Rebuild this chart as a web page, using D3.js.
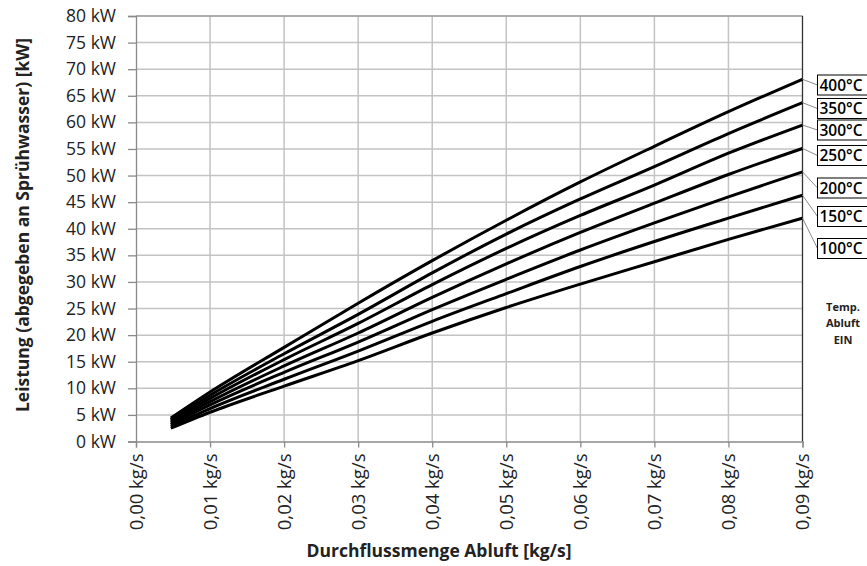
<!DOCTYPE html>
<html><head><meta charset="utf-8">
<script src="https://cdn.jsdelivr.net/npm/d3@7"></script>
<style>
body{margin:0;background:#fff;}
svg{display:block;font-family:"Open Sans",sans-serif;}
</style></head>
<body><svg id="c" width="867" height="566"></svg>
<script>
const flows = [0.0047, 0.01, 0.02, 0.03, 0.04, 0.05, 0.06, 0.07, 0.08, 0.09];
const temps = ["400°C","350°C","300°C","250°C","200°C","150°C","100°C"];
const s400 = [4.4, 9.3, 17.7, 26.0, 34.0, 41.6, 48.8, 55.5, 62.0, 68.1];
const s350 = [4.1, 8.7, 16.5, 23.9, 31.7, 39.0, 45.6, 51.7, 57.9, 63.7];
const s300 = [3.8, 8.1, 15.4, 22.2, 29.5, 36.3, 42.5, 48.2, 54.2, 59.5];
const s250 = [3.5, 7.5, 14.2, 20.4, 27.1, 33.4, 39.3, 44.8, 50.2, 55.1];
const s200 = [3.2, 6.9, 13.0, 18.7, 24.8, 30.5, 36.0, 41.1, 46.0, 50.7];
const s150 = [2.85, 6.2, 11.7, 17.0, 22.6, 27.8, 32.9, 37.6, 42.0, 46.3];
const s100 = [2.5, 5.5, 10.4, 15.2, 20.4, 25.2, 29.6, 33.8, 38.0, 42.0];
const series = [s400, s350, s300, s250, s200, s150, s100];
const labelY = [85, 108.5, 130, 155.5, 188, 216.5, 248.5]; // label box centres (px)
const xTicks = [0,0.01,0.02,0.03,0.04,0.05,0.06,0.07,0.08,0.09];
const yTicks = [0,5,10,15,20,25,30,35,40,45,50,55,60,65,70,75,80];
const noteLines = ["Temp.","Abluft","EIN"];

const svg = d3.select("#c");
const L = 136, R = 802.5, T = 16, B = 441.5;
const x = d3.scaleLinear().domain([0,0.09]).range([L,R]);
const y = d3.scaleLinear().domain([0,80]).range([B,T]);
const fmtX = v => d3.format(".2f")(v).replace(".",",") + " kg/s";

// grid
svg.append("g").selectAll("line").data(yTicks.slice(1)).join("line")
  .attr("x1",L).attr("x2",R).attr("y1",d=>y(d)).attr("y2",d=>y(d))
  .attr("stroke","#c3c3c3").attr("stroke-width",1.5);
svg.append("g").selectAll("line").data(xTicks.slice(1,-1)).join("line")
  .attr("y1",T).attr("y2",B).attr("x1",d=>x(d)).attr("x2",d=>x(d))
  .attr("stroke","#c3c3c3").attr("stroke-width",1.5);
// top and right border
svg.append("line").attr("x1",L).attr("x2",R).attr("y1",T).attr("y2",T).attr("stroke","#8a8a8a").attr("stroke-width",1.2);
svg.append("line").attr("x1",R).attr("x2",R).attr("y1",T).attr("y2",B).attr("stroke","#333").attr("stroke-width",1.3);

// y axis
const ya = svg.append("g").attr("transform",`translate(${L},0)`)
  .call(d3.axisLeft(y).tickValues(yTicks).tickSize(8).tickPadding(12).tickFormat(d=>d+" kW"));
ya.select(".domain").attr("stroke","#8a8a8a").attr("stroke-width",1.3);
ya.selectAll(".tick line").attr("stroke","#8a8a8a").attr("stroke-width",1.3);
ya.selectAll("text").attr("font-size",17.5).attr("fill","#222").attr("font-family","Open Sans");

// x axis
const xa = svg.append("g").attr("transform",`translate(0,${B})`)
  .call(d3.axisBottom(x).tickValues(xTicks).tickSize(6).tickFormat(fmtX));
xa.select(".domain").attr("stroke","#8a8a8a").attr("stroke-width",1.3);
xa.selectAll(".tick line").attr("stroke","#8a8a8a").attr("stroke-width",1.3);
xa.selectAll("text").attr("font-size",18.5).attr("fill","#222").attr("font-family","Open Sans")
  .attr("transform","rotate(-90)").attr("text-anchor","end")
  .attr("x",-12).attr("y",0).attr("dy","0.35em");

// curves
const line = d3.line().x((d,i)=>x(flows[i])).y(d=>y(d)).curve(d3.curveMonotoneX);
svg.append("g").selectAll("path").data(series).join("path")
  .attr("d",line).attr("fill","none").attr("stroke","#000").attr("stroke-width",3);
// labels
const lg = svg.append("g");
series.forEach((s,i)=>{
  const ex = x(flows[flows.length-1]), ey = y(s[s.length-1]);
  lg.append("line").attr("x1",ex).attr("y1",ey).attr("x2",817.5).attr("y2",labelY[i])
    .attr("stroke","#8a8a8a").attr("stroke-width",1);
});
series.forEach((s,i)=>{
  lg.append("rect").attr("x",817.5).attr("y",labelY[i]-10).attr("width",52).attr("height",20)
    .attr("fill","#fff").attr("stroke","#000").attr("stroke-width",1);
  lg.append("text").attr("x",819.5).attr("y",labelY[i]).attr("dy","0.36em")
    .attr("font-size",15.5).attr("font-weight",600).attr("fill","#000").text(temps[i]);
});
// note
svg.append("g").selectAll("text").data(noteLines).join("text")
  .attr("x",843).attr("y",(d,i)=>307+i*16.5).attr("dy","0.35em").attr("text-anchor","middle")
  .attr("font-size",11).attr("font-weight",700).attr("fill","#222").text(d=>d);

// axis titles
svg.append("text").attr("transform","translate(29,225) rotate(-90)").attr("text-anchor","middle")
  .attr("font-size",17.5).attr("font-weight",700).attr("fill","#222")
  .text("Leistung (abgegeben an Sprühwasser) [kW]");
svg.append("text").attr("x",439).attr("y",557).attr("text-anchor","middle")
  .attr("font-size",17.5).attr("font-weight",700).attr("fill","#222")
  .text("Durchflussmenge Abluft [kg/s]");
</script></body></html>
